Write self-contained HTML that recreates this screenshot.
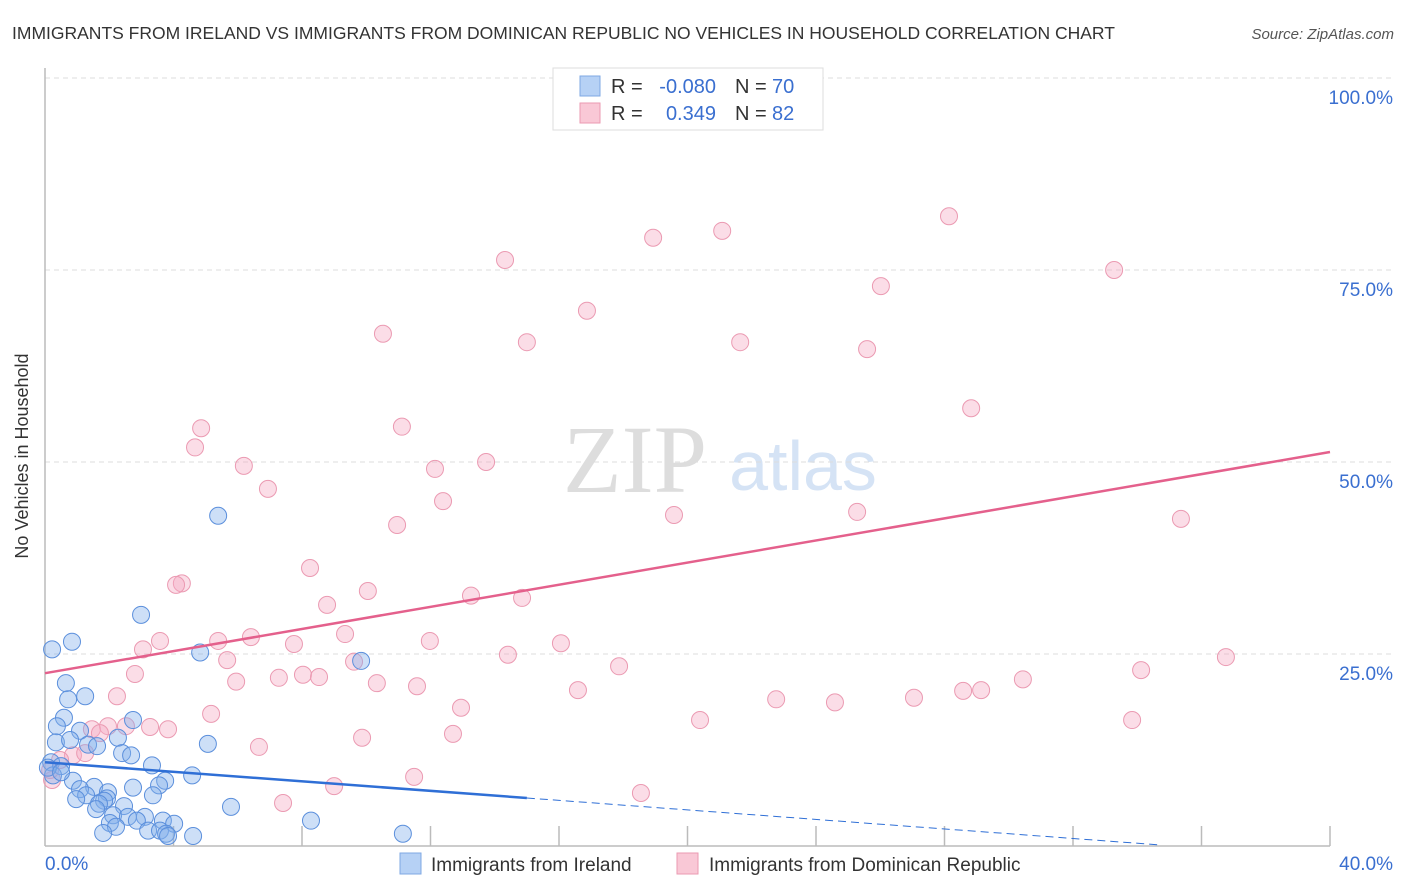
<!DOCTYPE html>
<html><head><meta charset="utf-8"><style>
body{margin:0;background:#fff;font-family:"Liberation Sans",sans-serif}
#c{position:relative;width:1406px;height:892px;overflow:hidden}
</style></head><body>
<div id="c">
<svg width="1406" height="892" xmlns="http://www.w3.org/2000/svg" id="svg">
<text x="12" y="39" font-size="17.5" fill="#333">IMMIGRANTS FROM IRELAND VS IMMIGRANTS FROM DOMINICAN REPUBLIC NO VEHICLES IN HOUSEHOLD CORRELATION CHART</text>
<text x="1394" y="39" font-size="15" fill="#555" font-style="italic" text-anchor="end">Source: ZipAtlas.com</text>
<text x="635" y="492" font-size="96" fill="#ddd" font-family="Liberation Serif" text-anchor="middle">ZIP</text>
<text x="803" y="490" font-size="70" fill="#d5e3f5" text-anchor="middle">atlas</text>
<g id="grid"></g>
<line x1="45" y1="68" x2="45" y2="846" stroke="#bbb" stroke-width="1.5"/>
<line x1="45" y1="846" x2="1330" y2="846" stroke="#bbb" stroke-width="1.5"/>
<g id="ticks"></g>
<g id="pts"></g>
<g id="lines"></g>
<text x="28" y="456" font-size="18" fill="#333" text-anchor="middle" transform="rotate(-90 28 456)">No Vehicles in Household</text>
<text x="45" y="870" font-size="19" fill="#3a6fd0">0.0%</text>
<text x="1393" y="870" font-size="19" fill="#3a6fd0" text-anchor="end">40.0%</text>
<g>
<rect x="553" y="68" width="270" height="62" fill="#fff" stroke="#ddd"/>
<rect x="580" y="76" width="20" height="20" fill="#b6d1f5" stroke="#7fa8e3"/>
<rect x="580" y="103" width="20" height="20" fill="#f9c8d6" stroke="#eb9ab2"/>
<text x="611" y="93" font-size="20" fill="#333">R = </text>
<text x="716" y="93" font-size="20" fill="#3a6fd0" text-anchor="end">-0.080</text>
<text x="735" y="93" font-size="20" fill="#333">N = </text>
<text x="772" y="93" font-size="20" fill="#3a6fd0">70</text>
<text x="611" y="120" font-size="20" fill="#333">R = </text>
<text x="716" y="120" font-size="20" fill="#3a6fd0" text-anchor="end">0.349</text>
<text x="735" y="120" font-size="20" fill="#333">N = </text>
<text x="772" y="120" font-size="20" fill="#3a6fd0">82</text>
</g>
<g>
<rect x="400" y="853" width="21" height="21" fill="#b6d1f5" stroke="#7fa8e3"/>
<text x="431" y="871" font-size="19" fill="#333">Immigrants from Ireland</text>
</g>
<g>
<rect x="677" y="853" width="21" height="21" fill="#f9c8d6" stroke="#eb9ab2"/>
<text x="709" y="871" font-size="19" fill="#333">Immigrants from Dominican Republic</text>
</g>
</svg>
</div>
<script>
const yTicks=[25,50,75,100];
const yTickLabels=["25.0%","50.0%","75.0%","100.0%"];
const xTicks=[4,8,12,16,20,24,28,32,36,40];
const pinkX=[28.14,21.08,18.93,14.32,33.28,26.02,16.87,10.52,15.0,21.64,25.59,28.83,11.11,4.86,4.67,6.19,12.14,13.73,6.94,12.39,19.58,25.28,35.36,10.96,8.25,4.26,4.08,10.05,13.26,14.85,8.78,9.34,6.41,3.58,5.39,11.98,16.06,7.75,3.05,14.41,5.67,36.76,17.87,9.62,34.12,2.8,7.28,8.03,8.53,5.95,10.33,11.58,30.44,16.59,28.58,29.14,2.24,22.76,27.05,24.59,12.95,5.17,20.39,33.84,2.52,1.96,3.27,3.83,1.46,1.71,12.7,9.87,6.66,0.87,1.25,11.49,9.0,18.55,7.41,0.22,0.16,0.47];
const pinkY=[82.0,80.1,79.2,76.3,75.0,72.9,69.7,66.7,65.6,65.6,64.7,57.0,54.6,54.4,51.9,49.5,49.1,50.0,46.5,44.9,43.1,43.5,42.6,41.8,36.2,34.2,34.0,33.2,32.6,32.3,31.4,27.6,27.2,26.7,26.7,26.7,26.4,26.3,25.6,24.9,24.2,24.6,23.4,24.0,22.9,22.4,21.9,22.3,22.0,21.4,21.2,20.8,21.7,20.3,20.2,20.3,19.5,19.1,19.3,18.7,18.0,17.2,16.4,16.4,15.6,15.6,15.5,15.2,15.2,14.7,14.6,14.1,12.9,11.8,12.1,9.0,7.8,6.9,5.6,8.6,9.9,11.2];
const blueX=[5.39,2.99,0.84,0.22,4.83,9.84,0.65,1.25,0.72,0.59,2.74,0.37,1.09,0.34,0.78,1.34,1.62,5.07,2.27,2.4,2.68,3.33,0.19,0.5,4.58,3.74,0.87,3.55,2.74,1.53,1.09,1.96,1.28,3.36,1.93,0.97,1.84,1.68,2.46,5.79,1.59,2.12,2.58,3.11,2.86,3.67,8.28,2.02,4.02,2.21,3.21,3.58,1.81,3.77,4.61,11.14,3.83,0.25,0.09,0.5];
const blueY=[43.0,30.1,26.6,25.6,25.2,24.1,21.2,19.5,19.1,16.7,16.4,15.6,15.0,13.5,13.8,13.2,13.0,13.3,14.1,12.1,11.8,10.5,10.9,10.4,9.2,8.5,8.5,7.9,7.6,7.7,7.4,7.0,6.6,6.6,6.2,6.1,5.9,5.5,5.2,5.1,4.8,4.0,3.8,3.8,3.3,3.3,3.3,3.0,2.9,2.5,2.0,2.0,1.7,1.6,1.3,1.6,1.3,9.2,10.2,9.6];
const pinkFit=[22.5,51.3];
const blueFit=[10.9,-0.31];
const NS="http://www.w3.org/2000/svg";
const X=v=>45+v/40*1285, Y=v=>846-v/25*192;
function mk(tag,attrs,parent){const e=document.createElementNS(NS,tag);for(const k in attrs)e.setAttribute(k,attrs[k]);parent.appendChild(e);return e;}
const grid=document.getElementById('grid');
yTicks.forEach((t,i)=>{
 const l=mk('line',{x1:45,x2:1393,y1:Y(t),y2:Y(t),stroke:'#ddd','stroke-dasharray':'5,4'},grid);
 
 
 const tx=mk('text',{x:1393,y:Y(t)+26,'font-size':19,fill:'#3a6fd0','text-anchor':'end'},grid);
 tx.textContent=yTickLabels[i];
 
 
});
const ticks=document.getElementById('ticks');
xTicks.forEach(t=>{
 const l=mk('line',{x1:X(t),x2:X(t),y1:826,y2:846,stroke:'#bbb','stroke-width':1.5},ticks);
 
 
});
const pts=document.getElementById('pts');
pinkX.forEach((x,i)=>{
 const c=mk('circle',{cx:X(x),cy:Y(pinkY[i]),r:8.5,fill:'rgba(246,170,195,0.4)',stroke:'#eb9ab2','stroke-width':1},pts);
 
 
});
blueX.forEach((x,i)=>{
 const c=mk('circle',{cx:X(x),cy:Y(blueY[i]),r:8.5,fill:'rgba(130,175,235,0.4)',stroke:'#5b8fdc','stroke-width':1},pts);
 
 
});
const lines=document.getElementById('lines');
const pl=mk('line',{x1:X(0),y1:Y(pinkFit[0]),x2:X(40),y2:Y(pinkFit[1]),stroke:'#e4608c','stroke-width':2.5},lines);


const bf=x=>blueFit[0]+blueFit[1]*x;
const bl=mk('line',{x1:X(0),y1:Y(bf(0)),x2:X(15),y2:Y(bf(15)),stroke:'#2f6fd6','stroke-width':2.5},lines);


const bd=mk('line',{x1:X(15),y1:Y(bf(15)),x2:X(34.7),y2:Y(bf(34.7)),stroke:'#2f6fd6','stroke-width':1,'stroke-dasharray':'8,5'},lines);


</script>
</body></html>
